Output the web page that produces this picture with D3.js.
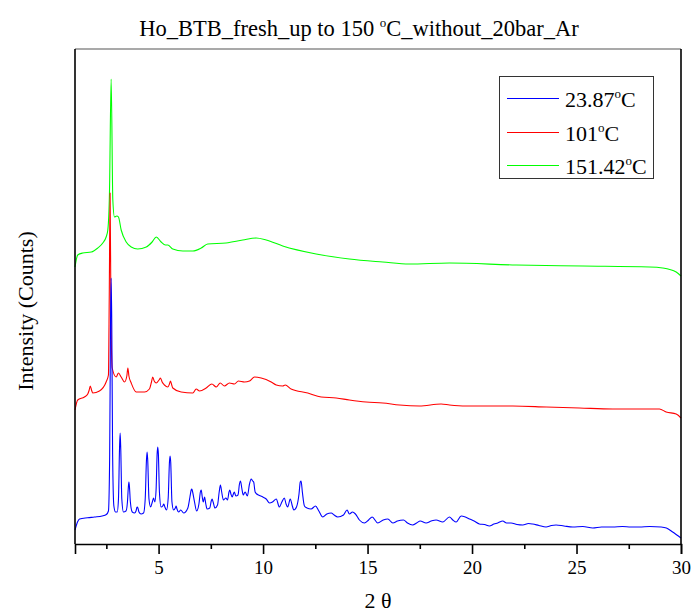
<!DOCTYPE html>
<html>
<head>
<meta charset="utf-8">
<script src="https://cdn.jsdelivr.net/npm/d3@7"></script>
<style>
  body { margin: 0; background: #fff; }
  text { font-family: "Liberation Serif", "Times New Roman", serif; fill: #000; }
</style>
</head>
<body>
<svg id="chart" width="694" height="613"></svg>
<script>
// ---- data (2θ in degrees, intensity in counts) ----
const seriesNames = ["23.87", "101", "151.42"];
const seriesColors = ["#0000ff", "#ff0000", "#00ff00"];
const xTicks = [5, 10, 15, 20, 25, 30];
const xMinorTicks = [2.5, 7.5, 12.5, 17.5, 22.5, 27.5];

const blueTheta = [1.0,1.12,1.22,1.6,1.93,2.3,2.5,2.6,2.66,2.7,2.73,2.76,2.8,2.86,2.94,3.02,3.08,3.13,3.16,3.19,3.24,3.32,3.44,3.51,3.55,3.58,3.61,3.65,3.74,3.85,3.92,3.96,3.98,4.01,4.06,4.16,4.28,4.36,4.42,4.45,4.48,4.54,4.62,4.7,4.76,4.82,4.88,4.93,4.96,4.99,5.04,5.12,5.2,5.25,5.3,5.38,5.46,5.52,5.55,5.58,5.64,5.72,5.8,5.84,5.88,5.96,6.06,6.2,6.4,6.5,6.56,6.59,6.63,6.72,6.82,6.93,7.0,7.04,7.09,7.14,7.2,7.26,7.32,7.45,7.52,7.56,7.61,7.7,7.82,7.9,7.96,8.02,8.1,8.22,8.3,8.37,8.41,8.46,8.52,8.62,8.7,8.8,8.87,8.92,8.98,9.05,9.14,9.25,9.35,9.43,9.5,9.55,9.62,9.7,9.78,9.99,10.15,10.31,10.45,10.63,10.78,10.9,11.02,11.1,11.18,11.3,11.4,11.47,11.6,11.72,11.78,11.82,11.88,11.98,12.1,12.3,12.51,12.67,12.86,13.05,13.26,13.4,13.57,13.85,14.02,14.13,14.28,14.42,14.61,14.85,15.05,15.22,15.49,15.75,15.97,16.21,16.43,16.72,16.91,17.16,17.35,17.52,17.8,18.05,18.28,18.6,18.92,19.08,19.24,19.48,19.68,19.88,20.1,20.35,20.6,20.83,21.05,21.23,21.47,21.65,21.87,22.15,22.43,22.7,22.9,23.2,23.54,23.8,24.02,24.4,24.82,25.3,25.78,26.2,26.73,27.2,27.6,28.01,28.5,29.05,29.3,29.6,30.0];
const blueCounts = [140,220,250,262,270,280,295,330,900,2200,2660,2200,900,380,320,320,450,950,1110,950,450,320,330,420,560,620,560,420,320,310,330,365,370,360,320,300,310,450,840,920,840,450,370,420,460,420,540,900,970,900,520,370,380,400,370,340,460,820,880,820,420,340,360,380,350,320,340,310,360,470,540,550,520,420,330,400,520,540,470,420,470,400,350,360,430,450,420,360,390,520,590,520,440,460,440,520,540,500,470,520,480,490,600,630,560,490,520,480,600,650,630,620,520,500,490,470,450,410,420,450,370,420,460,400,370,450,380,340,370,500,620,630,520,380,360,350,380,330,270,300,310,290,270,290,340,300,320,300,240,210,240,270,210,240,250,210,230,240,210,190,210,230,210,230,240,220,270,240,220,280,270,250,230,200,195,180,200,210,230,210,210,195,190,205,200,185,170,185,190,180,170,175,160,170,170,175,170,170,175,170,160,120,60];

const redTheta = [1.0,1.13,1.45,1.61,1.68,1.73,1.79,1.85,2.17,2.49,2.6,2.64,2.68,2.72,2.78,2.97,3.08,3.21,3.37,3.48,3.53,3.58,3.69,3.93,4.33,4.56,4.66,4.72,4.79,4.89,5.02,5.09,5.17,5.28,5.44,5.52,5.57,5.63,5.68,6.08,6.64,6.8,6.96,7.28,7.55,7.76,7.95,8.15,8.39,8.63,8.82,9.11,9.35,9.59,9.91,10.39,10.63,10.94,11.06,11.34,12.14,12.78,13.5,14.13,14.93,15.73,16.53,17.48,18.52,18.92,19.72,21.23,21.95,23.55,25.14,26.73,28.97,29.29,29.77,30.0];
const redCounts = [1340,1440,1470,1500,1540,1580,1540,1510,1530,1620,1690,2500,3510,2300,1760,1670,1710,1670,1620,1680,1760,1680,1610,1520,1520,1550,1620,1670,1630,1610,1640,1660,1620,1590,1570,1600,1630,1590,1560,1520,1510,1550,1530,1560,1600,1570,1610,1580,1610,1600,1630,1620,1630,1670,1660,1620,1590,1580,1590,1550,1510,1470,1460,1440,1420,1410,1390,1380,1400,1390,1380,1380,1380,1370,1360,1350,1350,1320,1300,1260];

const greenTheta = [1.0,1.13,1.37,1.78,2.09,2.33,2.49,2.57,2.65,2.73,2.81,2.89,3.0,3.08,3.21,3.45,3.69,4.0,4.41,4.69,4.89,5.12,5.33,5.44,5.68,6.16,6.64,7.04,7.35,8.23,9.03,9.67,10.15,10.94,12.54,14.13,15.73,17.0,18.92,22.11,25.3,28.49,29.12,29.77,30.0];
const greenCounts = [2770,2890,2910,2920,2960,3010,3070,3140,3510,4650,3440,3270,3280,3270,3140,3020,2970,2950,2970,3020,3070,3020,2990,2990,2950,2930,2930,2960,3000,3010,3040,3060,3040,2980,2900,2850,2820,2800,2810,2790,2780,2770,2760,2720,2680];

// ---- layout ----
const svg = d3.select("#chart");
const plotLeft = 75, plotRight = 681, plotTop = 49, plotBottom = 544;

const x = d3.scaleLinear().domain([1, 30]).range([plotLeft, plotRight]);
const y = d3.scaleLinear().domain([0, 4950]).range([plotBottom, plotTop]);

const series = [
  { name: seriesNames[2], color: seriesColors[2], theta: greenTheta, counts: greenCounts },
  { name: seriesNames[1], color: seriesColors[1], theta: redTheta, counts: redCounts },
  { name: seriesNames[0], color: seriesColors[0], theta: blueTheta, counts: blueCounts }
];

const line = d3.line().curve(d3.curveMonotoneX).x(d => x(d[0])).y(d => y(d[1]));

svg.append("g").selectAll("path").data(series).join("path")
  .attr("fill", "none")
  .attr("stroke", d => d.color)
  .attr("stroke-width", 1.1)
  .attr("stroke-linejoin", "round")
  .attr("d", d => line(d.theta.map((t, i) => [t, d.counts[i]])));

// frame
const frame = svg.append("g").attr("stroke", "#000").attr("stroke-width", 1.6);
frame.append("line").attr("x1", plotLeft).attr("x2", plotRight).attr("y1", plotTop).attr("y2", plotTop).attr("stroke", "#555").attr("stroke-width", 1.2);
frame.append("line").attr("x1", plotRight).attr("x2", plotRight).attr("y1", plotTop).attr("y2", plotBottom);
frame.append("line").attr("x1", plotLeft).attr("x2", plotLeft).attr("y1", plotTop).attr("y2", plotBottom);

// x axis
const xAxis = d3.axisBottom(x).tickValues(xTicks).tickSize(10).tickFormat(d3.format("d"));
const gx = svg.append("g").attr("transform", `translate(0,${plotBottom})`).call(xAxis);
gx.select(".domain").attr("stroke", "#000").attr("stroke-width", 1.6);
gx.selectAll(".tick line").attr("stroke", "#000").attr("stroke-width", 1.6);
gx.selectAll(".tick text").attr("font-family", "Liberation Serif").attr("font-size", 19).attr("dy", 0).attr("y", 30);

const xMinor = d3.axisBottom(x).tickValues(xMinorTicks).tickSize(5).tickFormat("");
const gm = svg.append("g").attr("transform", `translate(0,${plotBottom})`).call(xMinor);
gm.select(".domain").remove();
gm.selectAll(".tick line").attr("stroke", "#000").attr("stroke-width", 1.6);

// title
const title = svg.append("text").attr("x", 359).attr("y", 36).attr("text-anchor", "middle").attr("font-size", 22.5);
title.append("tspan").text("Ho_BTB_fresh_up to 150 ");
title.append("tspan").attr("font-size", 13).attr("dy", -9).text("o");
title.append("tspan").attr("dy", 9).text("C_without_20bar_Ar");

// axis titles
svg.append("text").attr("x", 378).attr("y", 608).attr("text-anchor", "middle").attr("font-size", 22).text("2 θ");
svg.append("text").attr("transform", "translate(33,311) rotate(-90)").attr("text-anchor", "middle").attr("font-size", 22).text("Intensity (Counts)");

// legend
const lg = svg.append("g");
lg.append("rect").attr("x", 499.5).attr("y", 76.5).attr("width", 154).attr("height", 102)
  .attr("fill", "#fff").attr("stroke", "#333").attr("stroke-width", 1);
const legendItems = [
  { name: seriesNames[0], color: seriesColors[0] },
  { name: seriesNames[1], color: seriesColors[1] },
  { name: seriesNames[2], color: seriesColors[2] }
];
legendItems.forEach((d, i) => {
  const cy = Math.round(98 + i * 33.5) + 0.5;
  lg.append("line").attr("x1", 507).attr("x2", 559).attr("y1", cy).attr("y2", cy)
    .attr("stroke", d.color).attr("stroke-width", 1);
  const t = lg.append("text").attr("x", 565).attr("y", cy + 8).attr("font-size", 22);
  t.append("tspan").text(d.name);
  t.append("tspan").attr("font-size", 13).attr("dy", -9).text("o");
  t.append("tspan").attr("dy", 9).text("C");
});
</script>
</body>
</html>
